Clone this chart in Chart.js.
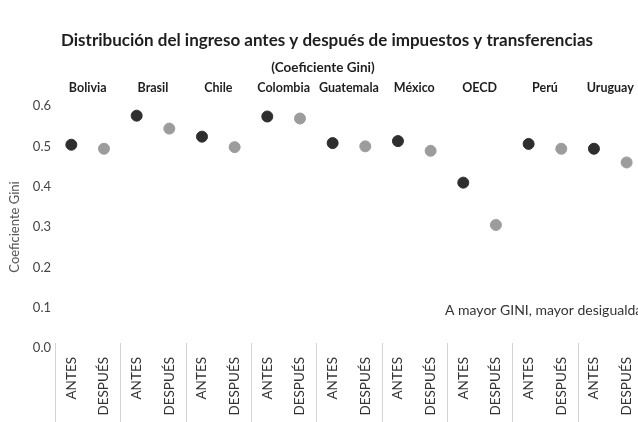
<!DOCTYPE html>
<html>
<head>
<meta charset="utf-8">
<script src="https://cdn.jsdelivr.net/npm/chart.js@4.4.1/dist/chart.umd.min.js"></script>
<style>
  html, body { margin: 0; padding: 0; background: #fff; overflow: hidden; }
  #wrap { width: 652px; height: 422px; }
</style>
</head>
<body>
<div id="wrap"><canvas id="giniChart" width="652" height="422"></canvas></div>
<script>
// Datos (coeficiente Gini)
const paises = ['Bolivia', 'Brasil', 'Chile', 'Colombia', 'Guatemala', 'México', 'OECD', 'Perú', 'Uruguay'];
const antes = [0.504, 0.576, 0.524, 0.574, 0.508, 0.513, 0.410, 0.506, 0.494];
const despues = [0.494, 0.544, 0.498, 0.569, 0.500, 0.489, 0.305, 0.494, 0.460];
const etiquetas = ['ANTES', 'DESPUÉS'];
const yTicks = [0.0, 0.1, 0.2, 0.3, 0.4, 0.5, 0.6];

// 18 categorias: ANTES / DESPUÉS por pais
const categorias = [];
const dataAntes = [];
const dataDespues = [];
paises.forEach((p, i) => {
  categorias.push(etiquetas[0], etiquetas[1]);
  dataAntes.push(antes[i], null);
  dataDespues.push(null, despues[i]);
});

const FONT = 'Lato, "Open Sans", sans-serif';

// Titulos, nombres de paises, separadores y nota
const extras = {
  id: 'extras',
  afterDraw(chart) {
    const ctx = chart.ctx;
    const x = chart.scales.x;
    const area = chart.chartArea;
    const half = (x.getPixelForValue(1) - x.getPixelForValue(0)) / 2;
    ctx.save();
    ctx.fillStyle = '#1e1e1e';
    ctx.textAlign = 'center';
    ctx.textBaseline = 'middle';
    ctx.font = 'bold 17px ' + FONT;
    ctx.fillText('Distribución del ingreso antes y después de impuestos y transferencias', 327, 41);
    ctx.font = 'bold 13.5px ' + FONT;
    ctx.fillText('(Coeficiente Gini)', 323, 68);
    ctx.font = 'bold 12.5px ' + FONT;
    paises.forEach((p, i) => {
      const cx = (x.getPixelForValue(2 * i) + x.getPixelForValue(2 * i + 1)) / 2;
      ctx.fillText(p, cx, 88);
    });
    // separadores entre paises
    ctx.strokeStyle = '#d4d4d4';
    ctx.lineWidth = 1;
    for (let i = 0; i <= paises.length; i++) {
      const px = Math.round(x.getPixelForValue(2 * i) - half) + 0.5;
      ctx.beginPath();
      ctx.moveTo(px, area.bottom - 5);
      ctx.lineTo(px, chart.height);
      ctx.stroke();
    }
    ctx.fillStyle = '#333';
    ctx.textAlign = 'left';
    ctx.font = '14px ' + FONT;
    ctx.fillText('A mayor GINI, mayor desigualdad', 445, 310);
    ctx.restore();
  }
};

const ctx = document.getElementById('giniChart').getContext('2d');
const giniChart = new Chart(ctx, {
  type: 'line',
  data: {
    labels: categorias,
    datasets: [
      {
        label: 'Antes',
        data: dataAntes,
        showLine: false,
        pointRadius: 5.5,
        pointHoverRadius: 5.5,
        pointBackgroundColor: '#2e2e2e',
        pointBorderColor: '#2e2e2e'
      },
      {
        label: 'Después',
        data: dataDespues,
        showLine: false,
        pointRadius: 5.5,
        pointHoverRadius: 5.5,
        pointBackgroundColor: '#9c9c9c',
        pointBorderColor: '#9c9c9c'
      }
    ]
  },
  options: {
    responsive: false,
    animation: false,
    layout: { padding: { top: 106, right: 7, left: 0, bottom: 0 } },
    plugins: {
      legend: { display: false },
      tooltip: { enabled: false }
    },
    scales: {
      x: {
        offset: true,
        grid: { display: false, drawTicks: false },
        border: { display: false },
        ticks: {
          color: '#333',
          font: { family: FONT, size: 13.5 },
          minRotation: 90,
          maxRotation: 90,
          padding: 9,
          autoSkip: false
        },
        afterFit(scale) { scale.height = 74; }
      },
      y: {
        min: 0,
        max: 0.6,
        grid: { display: false, drawTicks: false },
        border: { display: false },
        afterBuildTicks(scale) {
          scale.ticks = yTicks.map(v => ({ value: v }));
        },
        ticks: {
          color: '#444',
          font: { family: FONT, size: 13 },
          padding: 4,
          callback: v => v.toFixed(1)
        },
        title: {
          display: true,
          text: 'Coeficiente Gini',
          color: '#555',
          font: { family: FONT, size: 13 },
          padding: { top: 7, bottom: 6 }
        },
        afterFit(scale) { scale.width = 55; }
      }
    }
  },
  plugins: [extras]
});
</script>
</body>
</html>
